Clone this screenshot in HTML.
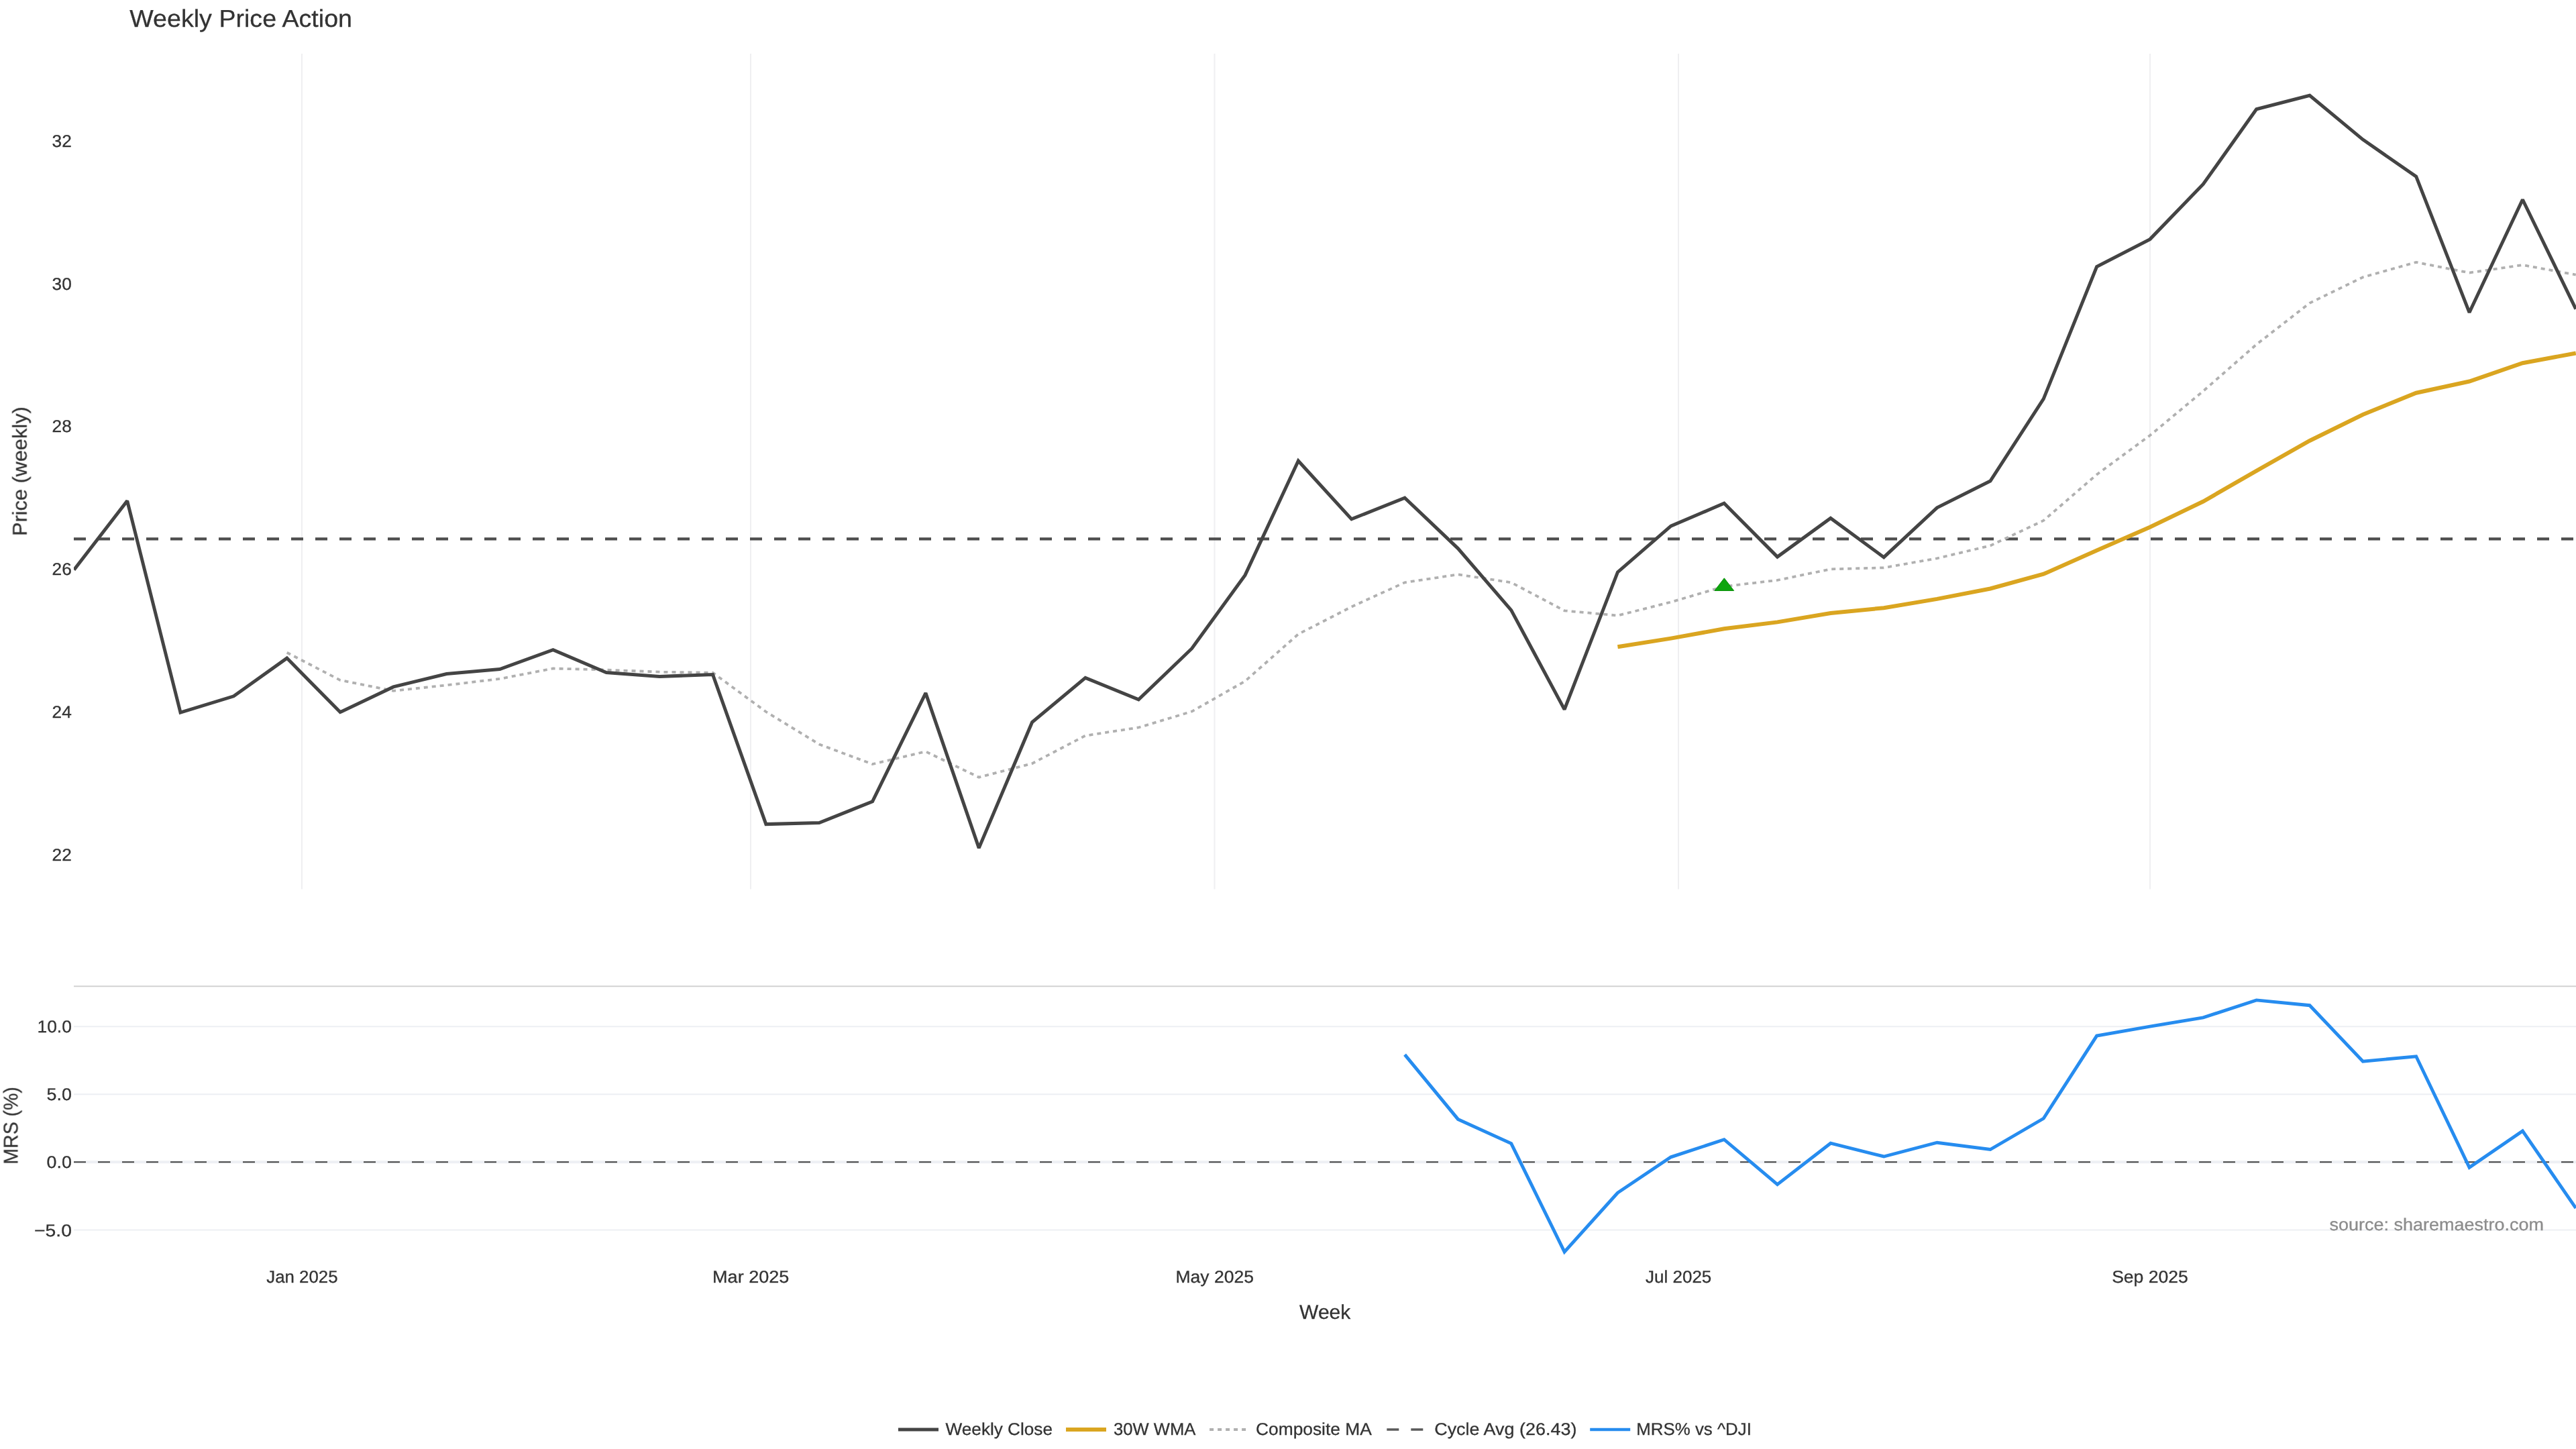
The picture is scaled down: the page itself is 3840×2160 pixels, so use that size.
<!DOCTYPE html>
<html><head><meta charset="utf-8"><title>Weekly Price Action</title>
<style>
html,body{margin:0;padding:0;background:#fff;}
body{width:3840px;height:2160px;overflow:hidden;font-family:"Liberation Sans",sans-serif;}
svg{display:block;}
text{font-family:"Liberation Sans",sans-serif;}
</style></head><body>
<svg width="3840" height="2160" viewBox="0 0 3840 2160">
<rect x="0" y="0" width="3840" height="2160" fill="#ffffff"/>
<defs>
<clipPath id="c1"><rect x="110" y="79.5" width="3730" height="1246.2"/></clipPath>
<clipPath id="c2"><rect x="110" y="1470" width="3730" height="415"/></clipPath>
</defs>
<g stroke="#efeff1" stroke-width="2" fill="none">
<path d="M450.0,80V1325.5"/>
<path d="M1119.0,80V1325.5"/>
<path d="M1810.5,80V1325.5"/>
<path d="M2502.0,80V1325.5"/>
<path d="M3205.0,80V1325.5"/>
</g>
<g stroke="#edeff3" stroke-width="2" fill="none">
<path d="M110,1530.2H3840"/>
<path d="M110,1631.2H3840"/>
<path d="M110,1833.6H3840"/>
</g>
<path d="M110,1732.3H3840" stroke="#eef0f4" stroke-width="4" fill="none"/>
<path d="M110,1470.3H3840" stroke="#d2d2d2" stroke-width="2.1" fill="none"/>
<g clip-path="url(#c1)" fill="none" stroke-miterlimit="2">
<path d="M110,803.3H3840" stroke="#4d4d4d" stroke-width="4.2" stroke-dasharray="18,18"/>
<path d="M427.70,972.70L507.05,1013.90L586.40,1029.80L665.75,1021.40L745.10,1011.90L824.45,996.50L903.80,998.50L983.15,1001.70L1062.50,1002.70L1141.85,1061.00L1221.20,1109.50L1300.55,1139.10L1379.90,1120.30L1459.25,1158.70L1538.60,1138.10L1617.95,1096.60L1697.30,1084.50L1776.65,1060.60L1856.00,1015.40L1935.35,945.30L2014.70,904.60L2094.05,868.30L2173.40,856.40L2252.75,868.30L2332.10,910.30L2411.45,917.60L2490.80,897.50L2570.15,874.20L2649.50,864.90L2728.85,848.40L2808.20,846.30L2887.55,832.30L2966.90,813.40L3046.25,776.00L3125.60,707.40L3204.95,649.00L3284.30,583.00L3363.65,513.50L3443.00,451.80L3522.35,413.20L3601.70,390.90L3681.05,406.60L3760.40,395.00L3839.75,409.60" stroke="#b0b0b0" stroke-width="3.8" stroke-dasharray="6,6"/>
<path d="M2411.45,964.20L2490.80,951.60L2570.15,937.30L2649.50,927.40L2728.85,914.00L2808.20,906.20L2887.55,892.90L2966.90,877.50L3046.25,855.70L3125.60,820.50L3204.95,785.80L3284.30,747.50L3363.65,701.90L3443.00,657.00L3522.35,618.00L3601.70,585.70L3681.05,568.50L3760.40,541.20L3839.75,526.40" stroke="#DAA520" stroke-width="6"/>
<path d="M110.30,849.40L189.65,746.60L269.00,1062.10L348.35,1037.80L427.70,981.10L507.05,1061.60L586.40,1023.90L665.75,1004.50L745.10,997.50L824.45,968.70L903.80,1002.50L983.15,1008.40L1062.50,1005.50L1141.85,1228.60L1221.20,1226.60L1300.55,1194.80L1379.90,1033.10L1459.25,1264.10L1538.60,1076.50L1617.95,1010.40L1697.30,1042.90L1776.65,966.70L1856.00,857.40L1935.35,687.00L2014.70,773.90L2094.05,742.10L2173.40,817.60L2252.75,909.60L2332.10,1057.60L2411.45,852.90L2490.80,784.20L2570.15,750.30L2649.50,830.10L2728.85,772.40L2808.20,830.70L2887.55,756.80L2966.90,717.00L3046.25,594.70L3125.60,397.50L3204.95,356.60L3284.30,274.50L3363.65,162.80L3443.00,142.30L3522.35,208.10L3601.70,263.20L3681.05,465.80L3760.40,297.50L3839.75,460.60" stroke="#444444" stroke-width="5"/>
<path d="M2555.92,880.52H2584.68L2570.3,861.85Z" fill="#0da50d" stroke="#0b8f0b" stroke-width="1"/>
</g>
<g clip-path="url(#c2)" fill="none" stroke-miterlimit="2">
<path d="M110,1732.3H3840" stroke="#444444" stroke-width="2" stroke-dasharray="18,18"/>
<path d="M2094.05,1572.10L2173.40,1668.40L2252.75,1704.60L2332.10,1866.20L2411.45,1778.00L2490.80,1724.80L2570.15,1698.70L2649.50,1765.60L2728.85,1704.20L2808.20,1724.00L2887.55,1703.20L2966.90,1713.50L3046.25,1667.30L3125.60,1544.10L3204.95,1530.10L3284.30,1516.90L3363.65,1490.90L3443.00,1498.70L3522.35,1582.20L3601.70,1574.80L3681.05,1740.30L3760.40,1685.90L3839.75,1800.90" stroke="#268CEF" stroke-width="4.9"/>
</g>
<g opacity="0.999" style="text-rendering:geometricPrecision">
<text x="193.3" y="39.8" font-size="36.23" fill="#333333" stroke="#333333" stroke-width="0.3" text-anchor="start" textLength="331.70" lengthAdjust="spacingAndGlyphs">Weekly Price Action</text>
<text x="106.8" y="218.9" font-size="25.62" fill="#333333" stroke="#333333" stroke-width="0.3" text-anchor="end" textLength="29.20" lengthAdjust="spacingAndGlyphs">32</text>
<text x="106.8" y="431.6" font-size="25.62" fill="#333333" stroke="#333333" stroke-width="0.3" text-anchor="end" textLength="29.20" lengthAdjust="spacingAndGlyphs">30</text>
<text x="106.8" y="644.3" font-size="25.62" fill="#333333" stroke="#333333" stroke-width="0.3" text-anchor="end" textLength="29.20" lengthAdjust="spacingAndGlyphs">28</text>
<text x="106.8" y="857.0" font-size="25.62" fill="#333333" stroke="#333333" stroke-width="0.3" text-anchor="end" textLength="29.20" lengthAdjust="spacingAndGlyphs">26</text>
<text x="106.8" y="1069.8" font-size="25.62" fill="#333333" stroke="#333333" stroke-width="0.3" text-anchor="end" textLength="29.20" lengthAdjust="spacingAndGlyphs">24</text>
<text x="106.8" y="1282.5" font-size="25.62" fill="#333333" stroke="#333333" stroke-width="0.3" text-anchor="end" textLength="29.20" lengthAdjust="spacingAndGlyphs">22</text>
<text x="106.9" y="1539.3" font-size="25.62" fill="#333333" stroke="#333333" stroke-width="0.3" text-anchor="end" textLength="51.40" lengthAdjust="spacingAndGlyphs">10.0</text>
<text x="106.9" y="1640.4" font-size="25.62" fill="#333333" stroke="#333333" stroke-width="0.3" text-anchor="end" textLength="37.30" lengthAdjust="spacingAndGlyphs">5.0</text>
<text x="106.9" y="1741.1" font-size="25.62" fill="#333333" stroke="#333333" stroke-width="0.3" text-anchor="end" textLength="37.30" lengthAdjust="spacingAndGlyphs">0.0</text>
<text x="106.9" y="1842.5" font-size="25.62" fill="#333333" stroke="#333333" stroke-width="0.3" text-anchor="end" textLength="55.90" lengthAdjust="spacingAndGlyphs">−5.0</text>
<text x="450.4" y="1912.3" font-size="25.62" fill="#333333" stroke="#333333" stroke-width="0.3" text-anchor="middle" textLength="106.20" lengthAdjust="spacingAndGlyphs">Jan 2025</text>
<text x="1119.2" y="1912.3" font-size="25.62" fill="#333333" stroke="#333333" stroke-width="0.3" text-anchor="middle" textLength="114.20" lengthAdjust="spacingAndGlyphs">Mar 2025</text>
<text x="1810.7" y="1912.3" font-size="25.62" fill="#333333" stroke="#333333" stroke-width="0.3" text-anchor="middle" textLength="116.50" lengthAdjust="spacingAndGlyphs">May 2025</text>
<text x="2502.2" y="1912.3" font-size="25.62" fill="#333333" stroke="#333333" stroke-width="0.3" text-anchor="middle" textLength="98.20" lengthAdjust="spacingAndGlyphs">Jul 2025</text>
<text x="3205.0" y="1912.3" font-size="25.62" fill="#333333" stroke="#333333" stroke-width="0.3" text-anchor="middle" textLength="113.70" lengthAdjust="spacingAndGlyphs">Sep 2025</text>
<text x="1975.2" y="1966.4" font-size="29.93" fill="#333333" stroke="#333333" stroke-width="0.3" text-anchor="middle" textLength="76.20" lengthAdjust="spacingAndGlyphs">Week</text>
<text x="39.3" y="702.6" font-size="29.93" fill="#333333" stroke="#333333" stroke-width="0.3" text-anchor="middle" textLength="192.80" lengthAdjust="spacingAndGlyphs" transform="rotate(-90 39.3 702.6)">Price (weekly)</text>
<text x="26.1" y="1677.8" font-size="29.93" fill="#333333" stroke="#333333" stroke-width="0.3" text-anchor="middle" textLength="115.50" lengthAdjust="spacingAndGlyphs" transform="rotate(-90 26.1 1677.8)">MRS (%)</text>
<text x="3472.5" y="1833.6" font-size="25.62" fill="#8c8c8c" stroke="#8c8c8c" stroke-width="0.3" text-anchor="start" textLength="319.40" lengthAdjust="spacingAndGlyphs">source: sharemaestro.com</text>
<g fill="none">
<path d="M1339,2131.0H1399" stroke="#444444" stroke-width="5"/>
<path d="M1589,2131.0H1649" stroke="#DAA520" stroke-width="6"/>
<path d="M1803.1,2131.0H1863.1" stroke="#b0b0b0" stroke-width="3.8" stroke-dasharray="6,6"/>
<path d="M2067.3,2131.0H2127.3" stroke="#5a5a5a" stroke-width="3.7" stroke-dasharray="18,18"/>
<path d="M2370.2,2131.0H2430.2" stroke="#268CEF" stroke-width="4.5"/>
</g>
<text x="1409.6" y="2139.4" font-size="25.62" fill="#333333" stroke="#333333" stroke-width="0.3" text-anchor="start" textLength="159.40" lengthAdjust="spacingAndGlyphs">Weekly Close</text>
<text x="1660.1" y="2139.4" font-size="25.62" fill="#333333" stroke="#333333" stroke-width="0.3" text-anchor="start" textLength="122.20" lengthAdjust="spacingAndGlyphs">30W WMA</text>
<text x="1872.0" y="2139.4" font-size="25.62" fill="#333333" stroke="#333333" stroke-width="0.3" text-anchor="start" textLength="172.80" lengthAdjust="spacingAndGlyphs">Composite MA</text>
<text x="2138.2" y="2139.4" font-size="25.62" fill="#333333" stroke="#333333" stroke-width="0.3" text-anchor="start" textLength="212.20" lengthAdjust="spacingAndGlyphs">Cycle Avg (26.43)</text>
<text x="2439.3" y="2139.4" font-size="25.62" fill="#333333" stroke="#333333" stroke-width="0.3" text-anchor="start" textLength="171.60" lengthAdjust="spacingAndGlyphs">MRS% vs ^DJI</text>
</g>
</svg></body></html>
